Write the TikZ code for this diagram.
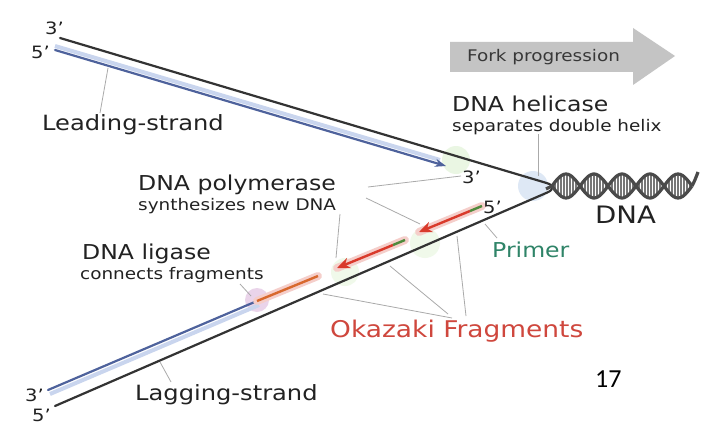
\documentclass[tikz,border=0pt]{standalone}
\usepackage{fontspec}
\setmainfont{DejaVu Sans}[FakeStretch=1.15]
\newfontfamily\numfont{Carlito}
\usetikzlibrary{arrows.meta}

\definecolor{strand}{HTML}{333333}
\definecolor{newblue}{HTML}{4E629C}
\definecolor{paleblue}{HTML}{C9D5EE}
\definecolor{fragred}{HTML}{D93A2B}
\definecolor{fragorange}{HTML}{D8692E}
\definecolor{primergreen}{HTML}{4F8A3C}
\definecolor{labelgreen}{HTML}{2F8468}
\definecolor{okazred}{HTML}{CF473D}
\definecolor{leadergray}{HTML}{AAAAAA}
\definecolor{arrowgray}{HTML}{C4C4C4}
\definecolor{helixgray}{HTML}{4A4A4A}
\definecolor{helicaseblue}{HTML}{C3D6EE}
\definecolor{txt}{HTML}{222222}

\newcommand\fsz[1]{\fontsize{#1}{#1}\selectfont}

\begin{document}
\begin{tikzpicture}[x=1pt,y=-1pt,
  lbl/.style={inner sep=0pt,anchor=base west,text=txt},
  leader/.style={draw=leadergray,line width=0.8pt},
  oldstrand/.style={draw=strand,line width=2.2pt,line cap=round},
  newstrand/.style={draw=newblue,line width=2.2pt,line cap=round},
  band/.style={draw=paleblue,line width=4pt},
  glow/.style={draw=fragred!25,line width=8pt,line cap=round},
  frag/.style={draw=fragred,line width=2.4pt},
  primer/.style={draw=primergreen,line width=2.4pt},
  halo/.style={fill opacity=0.55,draw=none},
  redtip/.style={-{Stealth[length=13pt,width=11pt]}},
  bluetip/.style={-{Stealth[length=11pt,width=8pt]}},
  backbone/.style={draw=helixgray,line width=3.2pt},
  rung/.style={draw=helixgray!75,line width=1.4pt}]

\useasboundingbox[fill=white] (0,0) rectangle (708,425);

% enzyme halos
\fill[halo,fill=yellow!25!green!20] (456,160) circle (14);
\fill[halo,fill=helicaseblue] (533,186) circle (15);
\fill[halo,fill=yellow!30!green!15] (425,243) circle (15);
\fill[halo,fill=yellow!30!green!15] (345,272) circle (14);
\fill[halo,fill=violet!30] (257,300) circle (12);

% fork progression arrow
\fill[arrowgray] (450,42) -- (633,42) -- (633,28) -- (675,56) -- (633,85)
  -- (633,72) -- (450,72) -- cycle;
\node[lbl,text=txt!90] (fp) at (467,62) {\fsz{16}Fork progression};

% key points of the strands
\coordinate (top3) at (60,38);
\coordinate (corner) at (560,187);
\coordinate (bot5) at (55,406);
\coordinate (lead5) at (55,50);
\coordinate (leadtip) at (446,166);
\coordinate (lead5b) at (55,46);
\coordinate (leadtipb) at (440,160);
\coordinate (lag3) at (48,390);
\coordinate (lag3b) at (50,394);
\coordinate (lig) at (257,301);
\coordinate (ligb) at (259,305);
\coordinate (fC) at (318,276);
\coordinate (fBtip) at (337,268);
\coordinate (fBp) at (393,245);
\coordinate (fB5) at (405,240);
\coordinate (fAtip) at (419,232);
\coordinate (fAp) at (470,211);
\coordinate (fA5) at (482,206);

% leading strand (new)
\draw[band] (lead5b) -- (leadtipb);
\draw[newstrand,bluetip] (lead5) -- (leadtip);

% lagging strand (new, joined part)
\draw[band] (lag3b) -- (ligb);
\draw[newstrand] (lag3) -- (lig);

% Okazaki fragments
\draw[glow] (lig) -- (fC);
\draw[glow] (fBtip) -- (fB5);
\draw[glow] (fAtip) -- (fA5);
\draw[frag,draw=fragorange] (lig) -- (fC);
\draw[frag,redtip] (fBp) -- (fBtip);
\draw[primer] (fB5) -- (fBp);
\draw[frag,redtip] (fAp) -- (fAtip);
\draw[primer] (fA5) -- (fAp);

% parental strands
\draw[oldstrand,rounded corners=14pt] (top3) -- (corner) -- (bot5);

% double helix
\foreach \x in {555,558,...,690}{
  \draw[rung] (\x,{186-11*sin((\x-552)/56*360)}) -- (\x,{186+11*sin((\x-552)/56*360)});
}
\draw[backbone] plot[domain=0:140,samples=90] ({552+\x},{186-12*sin(\x/56*360)});
\draw[backbone] plot[domain=0:140,samples=90] ({552+\x},{186+12*sin(\x/56*360)});
\coordinate (helixend) at (692,186);
\coordinate (helixtail) at (698,172);
\coordinate (helixstart) at (552,186);
\coordinate (forkjoin) at (546,189);
\draw[backbone] (helixend) .. controls (695,180) .. (helixtail);
\draw[backbone] (forkjoin) -- (helixstart);

% end labels
\node[lbl] (t3) at (45,35) {\fsz{17}3'};
\node[lbl] (t5) at (31,59) {\fsz{17}5'};
\node[lbl] (b3) at (25,401) {\fsz{17}3'};
\node[lbl] (b5) at (32,421) {\fsz{17}5'};
\node[lbl] (f3) at (462,183) {\fsz{17}3'};
\node[lbl] (f5) at (483,213) {\fsz{17}5'};

% labels
\node[lbl] (leading) at (42,130) {\fsz{21}Leading-strand};
\node[lbl] (lagging) at (135,400) {\fsz{21}Lagging-strand};
\node[lbl] (pol) at (138,190) {\fsz{20.5}DNA polymerase};
\node[lbl] (polsub) at (138,210) {\fsz{16}synthesizes new DNA};
\node[lbl] (hel) at (452,111) {\fsz{20.5}DNA helicase};
\node[lbl] (helsub) at (452,131) {\fsz{16}separates double helix};
\node[lbl] (dna) at (595,223) {\fsz{24}DNA};
\node[lbl,text=labelgreen] (primerlbl) at (492,257) {\fsz{20.5}Primer};
\node[lbl,text=okazred] (okaz) at (330,337) {\fsz{23}Okazaki Fragments};
\node[lbl] (ligase) at (82,259) {\fsz{20.5}DNA ligase};
\node[lbl] (ligsub) at (80,279) {\fsz{16}connects fragments};
\node[lbl,text=black] (pagenum) at (595,387) {\numfont\fsz{26}17};

% leader lines
\coordinate (ls1) at (108,68);   \coordinate (ls2) at (100,113);
\coordinate (lg1) at (160,362);  \coordinate (lg2) at (171,382);
\coordinate (hc1) at (538,134);  \coordinate (hc2) at (538,176);
\coordinate (pa1) at (368,187);  \coordinate (pa2) at (461,176);
\coordinate (pb1) at (366,198);  \coordinate (pb2) at (420,224);
\coordinate (pc1) at (340,214);  \coordinate (pc2) at (336,258);
\coordinate (li1) at (240,284);  \coordinate (li2) at (251,296);
\coordinate (pr1) at (497,238);  \coordinate (pr2) at (485,224);
\coordinate (oa1) at (457,236);  \coordinate (oa2) at (466,316);
\coordinate (ob1) at (390,266);  \coordinate (ob2) at (448,314);
\coordinate (oc1) at (323,294);  \coordinate (oc2) at (452,318);
\draw[leader] (ls1) -- (ls2);
\draw[leader] (lg1) -- (lg2);
\draw[leader] (hc1) -- (hc2);
\draw[leader] (pa1) -- (pa2);
\draw[leader] (pb1) -- (pb2);
\draw[leader] (pc1) -- (pc2);
\draw[leader] (li1) -- (li2);
\draw[leader] (pr1) -- (pr2);
\draw[leader] (oa1) -- (oa2);
\draw[leader] (ob1) -- (ob2);
\draw[leader] (oc1) -- (oc2);
\end{tikzpicture}
\end{document}
